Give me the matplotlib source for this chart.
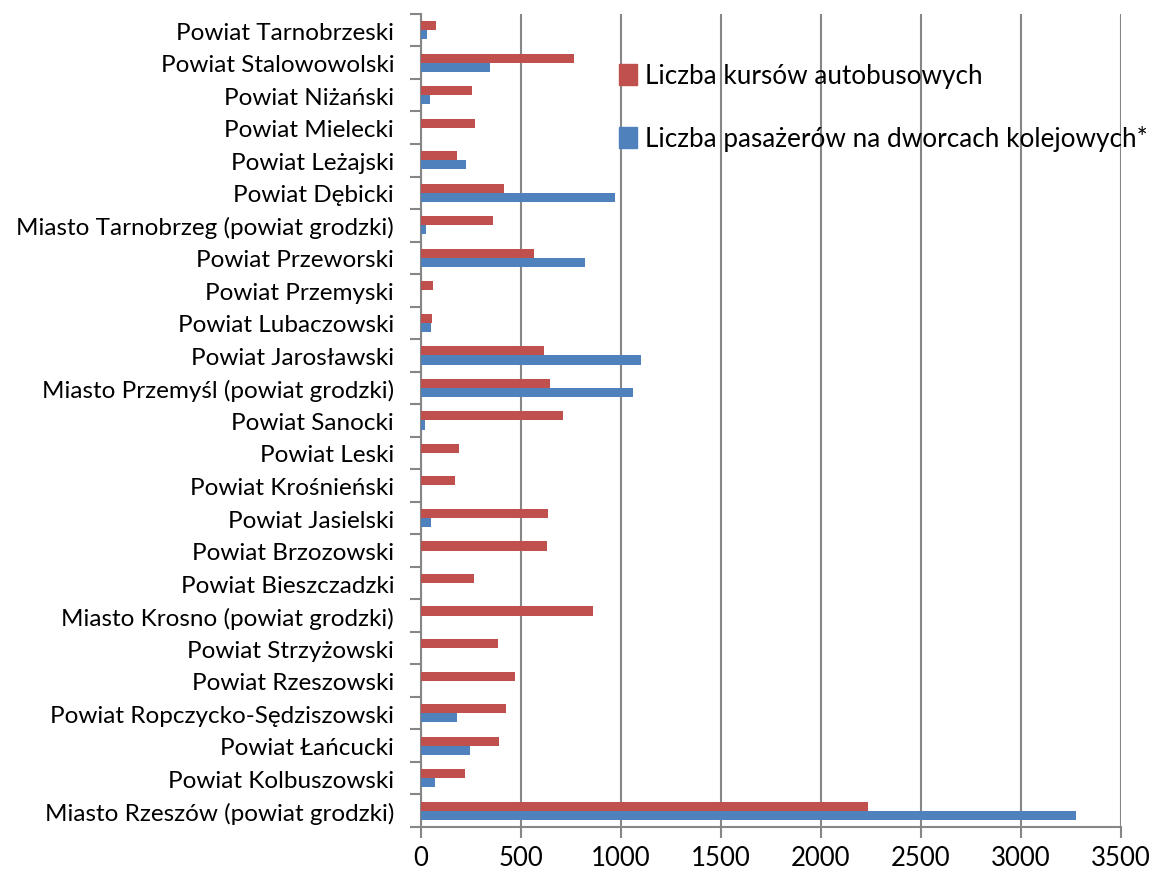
import numpy as np
import matplotlib.pyplot as plt
from matplotlib.patches import Patch
from matplotlib.ticker import FixedLocator

# categories listed bottom -> top, as in the source spreadsheet
powiaty = [
    "Miasto Rzeszów (powiat grodzki)",
    "Powiat Kolbuszowski",
    "Powiat Łańcucki",
    "Powiat Ropczycko-Sędziszowski",
    "Powiat Rzeszowski",
    "Powiat Strzyżowski",
    "Miasto Krosno (powiat grodzki)",
    "Powiat Bieszczadzki",
    "Powiat Brzozowski",
    "Powiat Jasielski",
    "Powiat Krośnieński",
    "Powiat Leski",
    "Powiat Sanocki",
    "Miasto Przemyśl (powiat grodzki)",
    "Powiat Jarosławski",
    "Powiat Lubaczowski",
    "Powiat Przemyski",
    "Powiat Przeworski",
    "Miasto Tarnobrzeg (powiat grodzki)",
    "Powiat Dębicki",
    "Powiat Leżajski",
    "Powiat Mielecki",
    "Powiat Niżański",
    "Powiat Stalowowolski",
    "Powiat Tarnobrzeski",
]

kursy_autobusowe = [2237, 222, 393, 427, 473, 387, 862, 267, 633, 638, 172, 193,
                    713, 648, 618, 58, 63, 568, 363, 418, 182, 272, 258, 765, 75]
pasazerowie_kolej = [3278, 72, 248, 182, 0, 0, 0, 0, 0, 53, 0, 0,
                     23, 1063, 1103, 52, 0, 823, 28, 973, 228, 0, 47, 348, 30]

label_bus = "Liczba kursów autobusowych"
label_rail = "Liczba pasażerów na dworcach kolejowych*"

RED = "#C0504D"
BLUE = "#4F81BD"
GRID = "#868686"

plt.rcParams['font.family'] = ['Lato', 'DejaVu Sans']

fig = plt.figure(figsize=(11.54, 8.78), dpi=100)
ax = fig.add_axes([0.3644, 0.057, 0.6066, 0.926])

y = np.arange(len(powiaty))
h = 0.28
ax.barh(y + h / 2, kursy_autobusowe, height=h, color=RED, zorder=3)
ax.barh(y - h / 2, pasazerowie_kolej, height=h, color=BLUE, zorder=3)

ax.set_xlim(0, 3500)
ax.set_ylim(-0.5, len(powiaty) - 0.5)
ax.set_xticks(np.arange(0, 3501, 500))
ax.tick_params(axis='x', labelsize=18.5, length=8, color=GRID, width=1.5,
               direction='out', pad=5)
ax.grid(axis='x', color=GRID, linewidth=1.5, zorder=0)

# y: boundary ticks as major, labels at centres as minor
ax.yaxis.set_major_locator(FixedLocator(np.arange(-0.5, len(powiaty), 1.0)))
ax.yaxis.set_minor_locator(FixedLocator(y))
ax.set_yticklabels([], minor=False)
ax.set_yticklabels(powiaty, minor=True)
ax.tick_params(axis='y', which='major', length=8, color=GRID, width=1.5)
ax.tick_params(axis='y', which='minor', length=0, labelsize=17.5, pad=19)

for side in ("top", "right"):
    ax.spines[side].set_visible(False)
for side in ("left", "bottom"):
    ax.spines[side].set_color(GRID)
    ax.spines[side].set_linewidth(1.5)

handles = [Patch(color=RED, label=label_bus), Patch(color=BLUE, label=label_rail)]
ax.legend(handles=handles, loc="upper left", bbox_to_anchor=(0.268, 0.952),
          frameon=False, fontsize=18.8, handlelength=0.7, handleheight=0.85,
          handletextpad=0.3, labelspacing=1.42, borderaxespad=0)

fig.savefig("out.png", dpi=100)
